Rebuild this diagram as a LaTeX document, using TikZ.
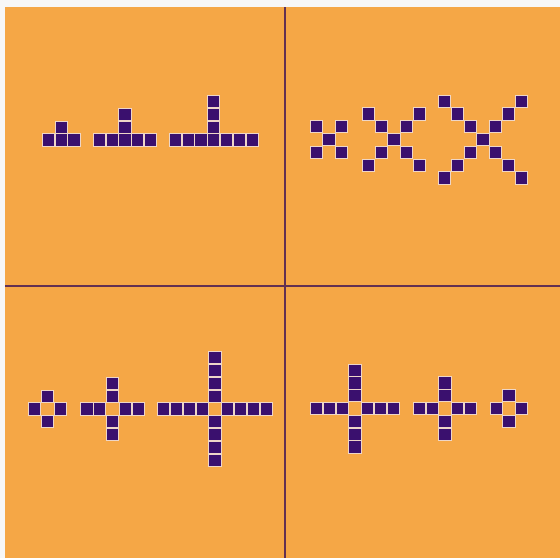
\documentclass[tikz,border=0pt]{standalone}
\usepackage{tikz}
\usetikzlibrary{backgrounds}
\usepackage{xcolor}

\definecolor{panelorange}{RGB}{245,167,70}
\definecolor{cellpurple}{RGB}{58,16,110}
\definecolor{celledge}{RGB}{238,214,200}
\definecolor{dividerline}{RGB}{98,48,82}

\tikzset{
  cell/.style={fill=cellpurple, draw=celledge, line width=0.9pt},
  divider/.style={draw=dividerline, line width=1.8pt}
}

\begin{document}
\begin{tikzpicture}[x=1pt,y=-1pt]
\useasboundingbox (0,0) rectangle (560,558);
\fill[white!97!black] (0,0) rectangle (560,558);
\fill[panelorange] (5,7) rectangle (560,558);

%Dividers
\draw[divider] (285,7) -- (285,558);
\draw[divider] (5,286) -- (560,286);

%T shape 1
\begin{scope}[shift={(61.2,140)}]
\foreach \i in {-1,...,1} \filldraw[cell] (12.8*\i-6.1,-6.1) rectangle +(12.2,12.2);
\foreach \j in {1} \filldraw[cell] (-6.1,-12.8*\j-6.1) rectangle +(12.2,12.2);
\end{scope}

%T shape 2
\begin{scope}[shift={(125,140)}]
\foreach \i in {-2,...,2} \filldraw[cell] (12.8*\i-6.1,-6.1) rectangle +(12.2,12.2);
\foreach \j in {1,2} \filldraw[cell] (-6.1,-12.8*\j-6.1) rectangle +(12.2,12.2);
\end{scope}

%T shape 3
\begin{scope}[shift={(213.8,140)}]
\foreach \i in {-3,...,3} \filldraw[cell] (12.8*\i-6.1,-6.1) rectangle +(12.2,12.2);
\foreach \j in {1,2,3} \filldraw[cell] (-6.1,-12.8*\j-6.1) rectangle +(12.2,12.2);
\end{scope}

%X shape 1
\begin{scope}[shift={(329,139.5)}]
\filldraw[cell] (-6.1,-6.1) rectangle +(12.2,12.2);
\foreach \k in {1} {
  \filldraw[cell] (12.8*\k-6.1,12.8*\k-6.1) rectangle +(12.2,12.2);
  \filldraw[cell] (-12.8*\k-6.1,12.8*\k-6.1) rectangle +(12.2,12.2);
  \filldraw[cell] (12.8*\k-6.1,-12.8*\k-6.1) rectangle +(12.2,12.2);
  \filldraw[cell] (-12.8*\k-6.1,-12.8*\k-6.1) rectangle +(12.2,12.2);
}
\end{scope}

%X shape 2
\begin{scope}[shift={(394,139.5)}]
\filldraw[cell] (-6.1,-6.1) rectangle +(12.2,12.2);
\foreach \k in {1,2} {
  \filldraw[cell] (12.8*\k-6.1,12.8*\k-6.1) rectangle +(12.2,12.2);
  \filldraw[cell] (-12.8*\k-6.1,12.8*\k-6.1) rectangle +(12.2,12.2);
  \filldraw[cell] (12.8*\k-6.1,-12.8*\k-6.1) rectangle +(12.2,12.2);
  \filldraw[cell] (-12.8*\k-6.1,-12.8*\k-6.1) rectangle +(12.2,12.2);
}
\end{scope}

%X shape 3
\begin{scope}[shift={(483,139.5)}]
\filldraw[cell] (-6.1,-6.1) rectangle +(12.2,12.2);
\foreach \k in {1,2,3} {
  \filldraw[cell] (12.8*\k-6.1,12.8*\k-6.1) rectangle +(12.2,12.2);
  \filldraw[cell] (-12.8*\k-6.1,12.8*\k-6.1) rectangle +(12.2,12.2);
  \filldraw[cell] (12.8*\k-6.1,-12.8*\k-6.1) rectangle +(12.2,12.2);
  \filldraw[cell] (-12.8*\k-6.1,-12.8*\k-6.1) rectangle +(12.2,12.2);
}
\end{scope}

%Cross 1
\begin{scope}[shift={(47.5,409)}]
\foreach \k in {1} {
  \filldraw[cell] (12.8*\k-6.1,-6.1) rectangle +(12.2,12.2);
  \filldraw[cell] (-12.8*\k-6.1,-6.1) rectangle +(12.2,12.2);
  \filldraw[cell] (-6.1,12.8*\k-6.1) rectangle +(12.2,12.2);
  \filldraw[cell] (-6.1,-12.8*\k-6.1) rectangle +(12.2,12.2);
}
\end{scope}

%Cross 2
\begin{scope}[shift={(112.5,409)}]
\foreach \k in {1,2} {
  \filldraw[cell] (12.8*\k-6.1,-6.1) rectangle +(12.2,12.2);
  \filldraw[cell] (-12.8*\k-6.1,-6.1) rectangle +(12.2,12.2);
  \filldraw[cell] (-6.1,12.8*\k-6.1) rectangle +(12.2,12.2);
  \filldraw[cell] (-6.1,-12.8*\k-6.1) rectangle +(12.2,12.2);
}
\end{scope}

%Cross 3
\begin{scope}[shift={(215,409)}]
\foreach \k in {1,...,4} {
  \filldraw[cell] (12.8*\k-6.1,-6.1) rectangle +(12.2,12.2);
  \filldraw[cell] (-12.8*\k-6.1,-6.1) rectangle +(12.2,12.2);
  \filldraw[cell] (-6.1,12.8*\k-6.1) rectangle +(12.2,12.2);
  \filldraw[cell] (-6.1,-12.8*\k-6.1) rectangle +(12.2,12.2);
}
\end{scope}

%Cross 4
\begin{scope}[shift={(355,408.5)}]
\foreach \k in {1,2,3} {
  \filldraw[cell] (12.8*\k-6.1,-6.1) rectangle +(12.2,12.2);
  \filldraw[cell] (-12.8*\k-6.1,-6.1) rectangle +(12.2,12.2);
  \filldraw[cell] (-6.1,12.8*\k-6.1) rectangle +(12.2,12.2);
  \filldraw[cell] (-6.1,-12.8*\k-6.1) rectangle +(12.2,12.2);
}
\end{scope}

%Cross 5
\begin{scope}[shift={(445,408.5)}]
\foreach \k in {1,2} {
  \filldraw[cell] (12.8*\k-6.1,-6.1) rectangle +(12.2,12.2);
  \filldraw[cell] (-12.8*\k-6.1,-6.1) rectangle +(12.2,12.2);
  \filldraw[cell] (-6.1,12.8*\k-6.1) rectangle +(12.2,12.2);
  \filldraw[cell] (-6.1,-12.8*\k-6.1) rectangle +(12.2,12.2);
}
\end{scope}

%Cross 6
\begin{scope}[shift={(509,408.5)}]
\foreach \k in {1} {
  \filldraw[cell] (12.8*\k-6.1,-6.1) rectangle +(12.2,12.2);
  \filldraw[cell] (-12.8*\k-6.1,-6.1) rectangle +(12.2,12.2);
  \filldraw[cell] (-6.1,12.8*\k-6.1) rectangle +(12.2,12.2);
  \filldraw[cell] (-6.1,-12.8*\k-6.1) rectangle +(12.2,12.2);
}
\end{scope}
\end{tikzpicture}
\end{document}
